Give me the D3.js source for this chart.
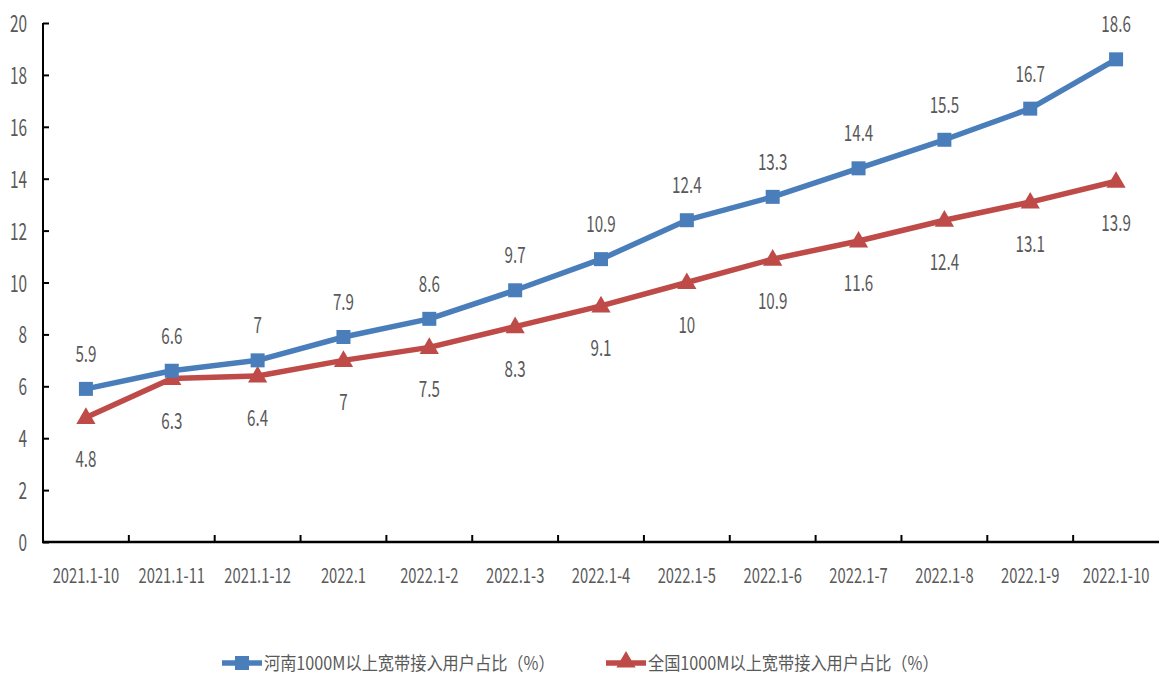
<!DOCTYPE html>
<html>
<head>
<meta charset="utf-8">
<script src="https://cdn.jsdelivr.net/npm/d3@7"></script>
<style>
  body { margin: 0; background: #fff; }
  text { font-family: "Noto Sans CJK SC", "Noto Sans", sans-serif; fill: #595959; }
</style>
</head>
<body>
<div id="chart"></div>
<script>
const months = ["2021.1-10", "2021.1-11", "2021.1-12", "2022.1", "2022.1-2", "2022.1-3", "2022.1-4",
                "2022.1-5", "2022.1-6", "2022.1-7", "2022.1-8", "2022.1-9", "2022.1-10"];
const henan = [5.9, 6.6, 7, 7.9, 8.6, 9.7, 10.9, 12.4, 13.3, 14.4, 15.5, 16.7, 18.6];
const national = [4.8, 6.3, 6.4, 7, 7.5, 8.3, 9.1, 10, 10.9, 11.6, 12.4, 13.1, 13.9];
const seriesNames = ["河南1000M以上宽带接入用户占比（%）", "全国1000M以上宽带接入用户占比（%）"];
const yTicks = [0, 2, 4, 6, 8, 10, 12, 14, 16, 18, 20];

const width = 1161, height = 676,
      margin = ({ top: 23, right: 2, bottom: 134, left: 43 });

const svg = d3.select("#chart").append("svg")
    .attr("width", width).attr("height", height);

const x = d3.scaleBand()
    .domain(months)
    .range([margin.left, width - margin.right]);

const y = d3.scaleLinear()
    .domain([0, 20])
    .range([height - margin.bottom, margin.top]);

// narrow text: the original uses a condensed face, so squeeze horizontally
const squeeze = (tx, ty, s) => `translate(${tx},${ty}) scale(${s},1)`;

// y axis
const yAxis = svg.append("g")
    .attr("transform", `translate(${margin.left},0)`)
    .call(d3.axisRight(y).tickValues(yTicks).tickSize(6).tickFormat(d3.format("d")));
yAxis.select(".domain").attr("stroke", "#000").attr("stroke-width", 2).attr("d", `M0,${y(20)}V${y(0)}`);
yAxis.selectAll(".tick line").attr("stroke", "#000").attr("stroke-width", 2);
yAxis.selectAll(".tick text")
    .attr("x", null).attr("dy", null)
    .attr("transform", squeeze(-16, 8.5, 0.67))
    .attr("text-anchor", "end")
    .style("font-size", "23px");

// x axis with ticks at category boundaries
const xAxis = svg.append("g")
    .attr("transform", `translate(0,${y(0)})`);
xAxis.append("line")
    .attr("x1", margin.left - 1).attr("x2", width - margin.right)
    .attr("stroke", "#000").attr("stroke-width", 2.5);
xAxis.selectAll(".bt")
    .data(months.slice(1))
    .join("line")
    .attr("x1", d => x(d)).attr("x2", d => x(d))
    .attr("y1", 0).attr("y2", -7)
    .attr("stroke", "#000").attr("stroke-width", 2);
xAxis.selectAll(".xl")
    .data(months)
    .join("text")
    .attr("transform", d => squeeze(x(d) + x.bandwidth() / 2, 41, 0.72))
    .attr("text-anchor", "middle")
    .style("font-size", "20.5px")
    .text(d => d);

const cx = (d, i) => x(months[i]) + x.bandwidth() / 2;
const line = d3.line().x(cx).y(d => y(d));

const colors = ["#4a7ebb", "#be4b48"];
const tri = d3.symbol().type(d3.symbolTriangle).size(160);

// national (red) series
svg.append("path").datum(national)
    .attr("fill", "none").attr("stroke", colors[1]).attr("stroke-width", 5.5)
    .attr("stroke-linejoin", "round").attr("d", line);
svg.selectAll(".tri").data(national).join("path")
    .attr("transform", (d, i) => `translate(${cx(d, i)},${y(d) + 1})`)
    .attr("d", tri).attr("fill", colors[1]);

// henan (blue) series
svg.append("path").datum(henan)
    .attr("fill", "none").attr("stroke", colors[0]).attr("stroke-width", 5.5)
    .attr("stroke-linejoin", "round").attr("d", line);
svg.selectAll(".sq").data(henan).join("rect")
    .attr("x", (d, i) => cx(d, i) - 7).attr("y", d => y(d) - 7)
    .attr("width", 14).attr("height", 14).attr("fill", colors[0]);

// value labels
svg.selectAll(".lh").data(henan).join("text")
    .attr("transform", (d, i) => squeeze(cx(d, i), y(d) - 27, 0.69))
    .attr("text-anchor", "middle").style("font-size", "22px")
    .text(d => d);
svg.selectAll(".ln").data(national).join("text")
    .attr("transform", (d, i) => squeeze(cx(d, i), y(d) + 50, 0.69))
    .attr("text-anchor", "middle").style("font-size", "22px")
    .text(d => d);

// legend
const legend = svg.append("g").attr("transform", `translate(0,663)`);
[222, 606].forEach((lx, i) => {
  const g = legend.append("g").attr("transform", `translate(${lx},0)`);
  g.append("line").attr("x1", 0).attr("x2", 40)
    .attr("stroke", colors[i]).attr("stroke-width", 5.5);
  if (i === 0) {
    g.append("rect").attr("x", 13).attr("y", -7).attr("width", 14).attr("height", 14).attr("fill", colors[0]);
  } else {
    g.append("path").attr("transform", "translate(20,-1)").attr("d", tri).attr("fill", colors[1]);
  }
  g.append("text").attr("transform", squeeze(42, 7, 0.9))
    .style("font-size", "18px")
    .text(seriesNames[i]);
});
</script>
</body>
</html>
